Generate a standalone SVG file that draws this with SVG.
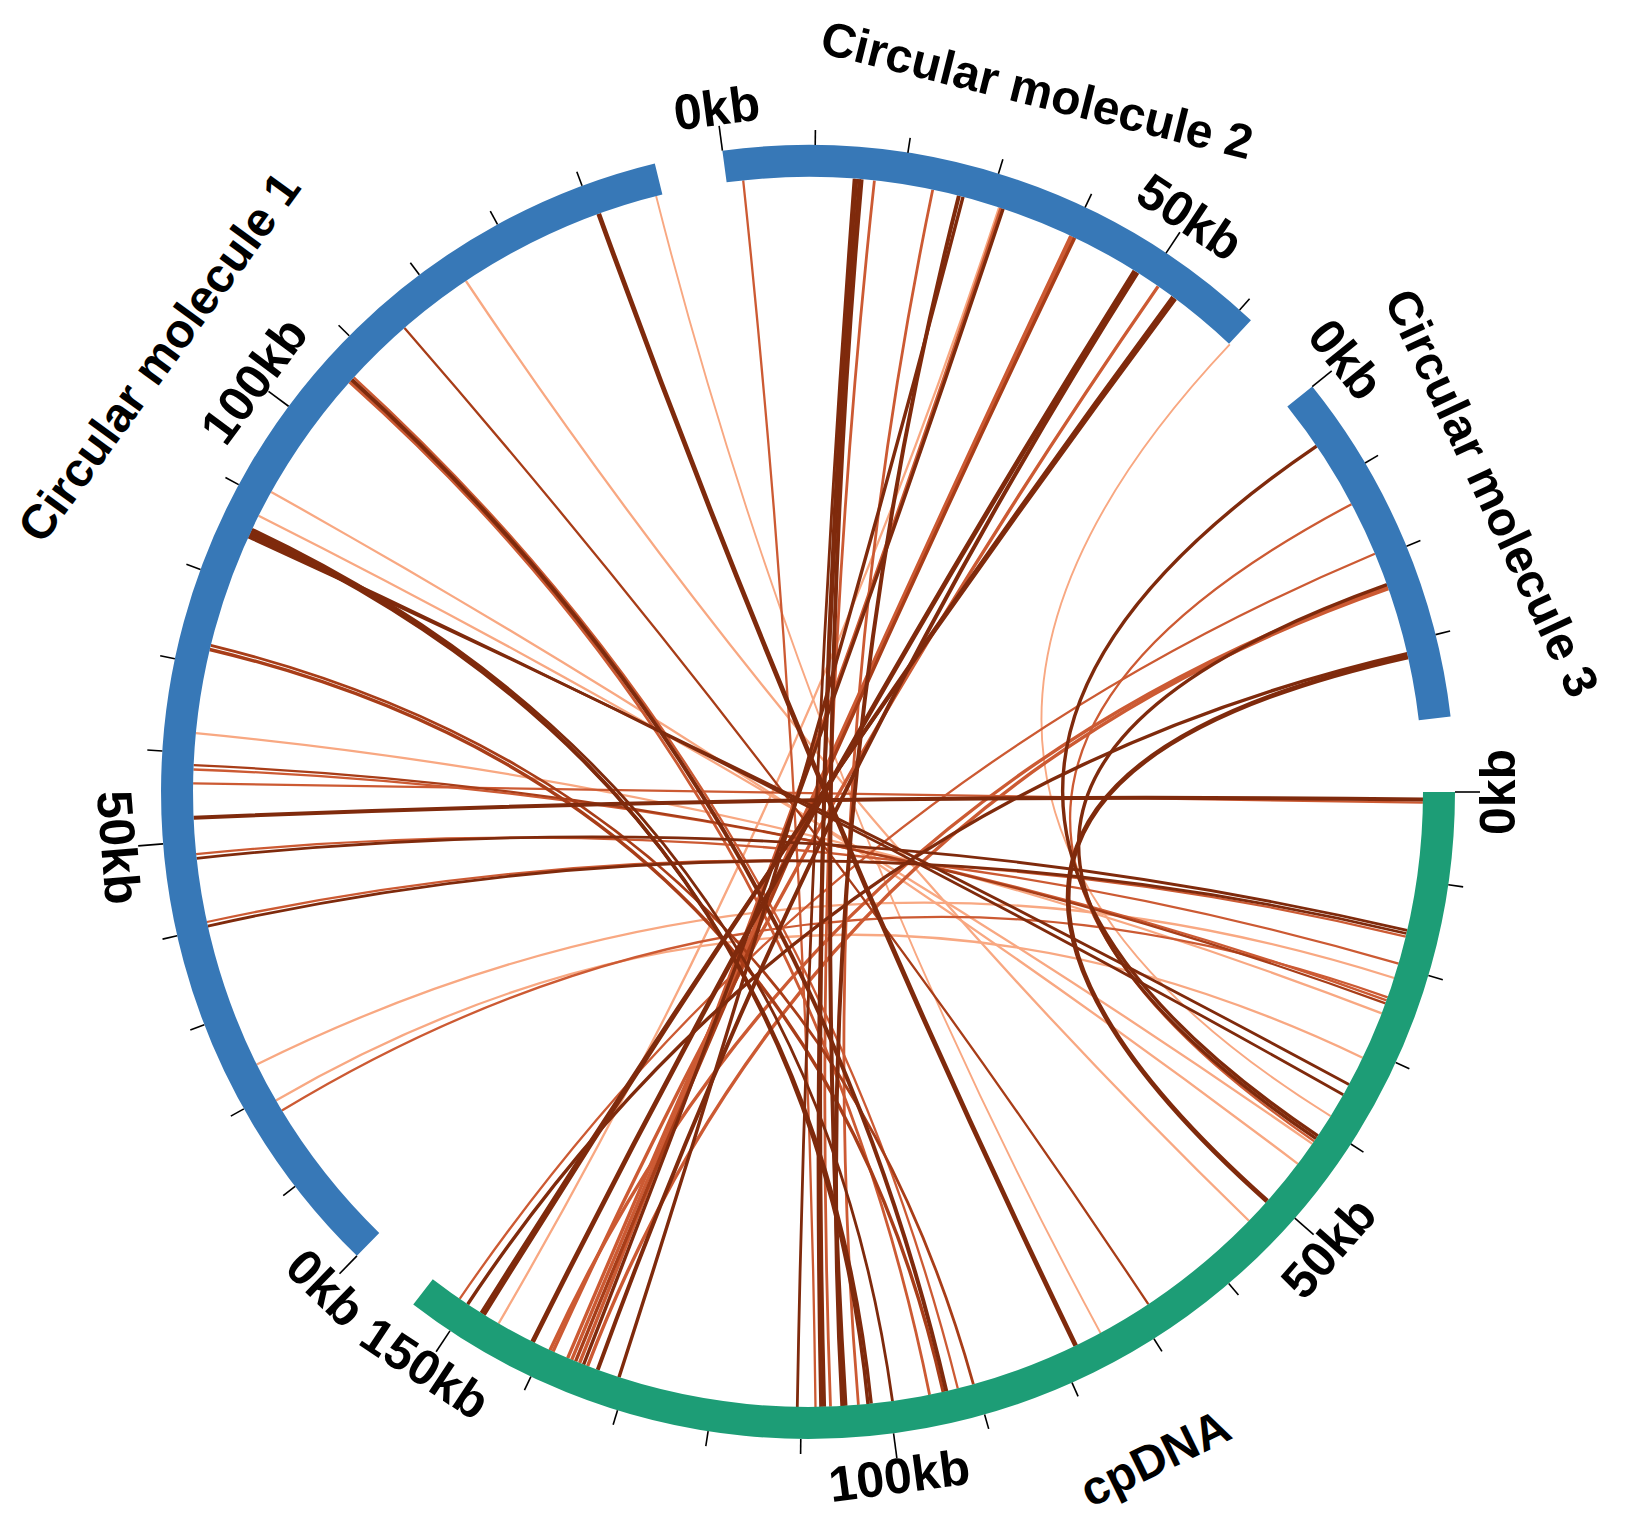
<svg xmlns="http://www.w3.org/2000/svg" width="1626" height="1529" viewBox="0 0 1626 1529">
<style>
.ring{fill:none;stroke-width:32;stroke-linecap:butt}
.blue{stroke:#3778b7}
.green{stroke:#1d9d76}
.tick line{stroke:#000;stroke-width:1.6}
.lab{font-family:"Liberation Sans",Arial,sans-serif;font-weight:bold;fill:#000;text-anchor:middle;dominant-baseline:central}
.tl{font-size:50px}
.il{font-size:48px}
#links path{fill:none;stroke-linecap:butt}
.d{stroke:#7f2a0c}
.md{stroke:#a83d18}
.m{stroke:#cc5a33}
.l{stroke:#f8a882}
.w1{stroke-width:1.9}
.w2{stroke-width:2.3}
.w25{stroke-width:2.8}
.w3{stroke-width:3.4}
.w35{stroke-width:4}
.w4{stroke-width:4.8}
</style>
<rect width="1626" height="1529" fill="#fff"/>

<g id="links">
<!-- light -->
<path class="l w2" d="M256.7 1064.5 Q808 792 1394.2 978.0"/>
<path class="l w2" d="M195.8 733.1 Q808 792 1381.8 1013.4"/>
<path class="l w2" d="M275.9 1100.4 Q808 792 1362.6 1057.7"/>
<path class="l w1" d="M1229.8 344.4 Q808 792 1330.7 1116.1"/>
<path class="l w2" d="M258.6 515.7 Q808 792 1312.4 1143.9"/>
<path class="l w2" d="M271.2 492.0 Q808 792 1297.9 1163.8"/>
<path class="l w2" d="M465.9 281.0 Q808 792 1248.9 1220.8"/>
<path class="l w1" d="M656.1 196.1 Q808 792 1100.5 1333.0"/>
<path class="l w2" d="M999.1 207.4 Q808 792 498.6 1323.5"/>
<!-- medium -->
<path class="m w2" d="M193.1 783.4 Q808 792 1422.9 802.7"/>
<path class="m w2" d="M206.9 922.0 Q808 792 1405.8 936.6"/>
<path class="m w2" d="M196.1 854.2 Q808 792 1398.6 963.6"/>
<path class="m w2" d="M281.9 1110.6 Q808 792 1387.7 997.3"/>
<path class="m w2" d="M193.4 769.5 Q808 792 1386.6 1000.3"/>
<path class="m w2" d="M1351.5 504.2 Q808 792 1314.2 1141.2"/>
<path class="m w2" d="M743.2 180.4 Q808 792 815.5 1407.0"/>
<path class="m w25" d="M874.4 180.6 Q808 792 830.5 1406.6"/>
<path class="m w25" d="M932.7 189.8 Q808 792 858.4 1404.9"/>
<path class="m w25" d="M349.5 382.1 Q808 792 929.6 1394.9"/>
<path class="m w2" d="M353.8 377.3 Q808 792 957.8 1388.5"/>
<path class="m w2" d="M1374.9 553.7 Q808 792 459.7 1298.8"/>
<path class="m w3" d="M1158.1 286.4 Q808 792 553.0 1351.6"/>
<path class="m w3" d="M1387.7 586.7 Q808 792 550.0 1350.3"/>
<path class="m w3" d="M1070.8 236.0 Q808 792 567.7 1358.1"/>
<path class="m w3" d="M1072.8 236.9 Q808 792 571.7 1359.8"/>
<path class="m w3" d="M1001.1 208.1 Q808 792 579.6 1363.0"/>
<path class="m w3" d="M1388.4 588.7 Q808 792 587.6 1366.2"/>
<!-- medium dark -->
<path class="md w2" d="M193.6 765.2 Q808 792 1385.5 1003.4"/>
<path class="md w2" d="M404.5 327.9 Q808 792 1148.3 1304.2"/>
<path class="md w3" d="M1074.7 237.8 Q808 792 575.6 1361.4"/>
<path class="md w3" d="M209.7 649.5 Q808 792 943.2 1392.0"/>
<path class="md w25" d="M210.8 645.3 Q808 792 973.4 1384.3"/>
<!-- dark -->
<path class="d w35" d="M193.6 817.8 Q808 792 1423.0 799.5"/>
<path class="d w25" d="M196.6 858.4 Q808 792 1407.2 930.3"/>
<path class="d w25" d="M207.8 926.1 Q808 792 1406.5 933.5"/>
<path class="d w25" d="M248.3 537.0 Q808 792 1349.0 1084.5"/>
<path class="d w25" d="M249.3 535.0 Q808 792 1343.3 1094.8"/>
<path class="d w3" d="M1316.6 446.2 Q808 792 1317.9 1135.9"/>
<path class="d w3" d="M1387.0 584.7 Q808 792 1316.1 1138.6"/>
<path class="d w4" d="M1408.0 656.8 Q808 792 1267.2 1201.1"/>
<path class="d w4" d="M598.7 213.7 Q808 792 1075.7 1345.7"/>
<path class="d w25" d="M854.1 178.7 Q808 792 797.3 1406.9"/>
<path class="d w35" d="M856.3 178.9 Q808 792 824.1 1406.8"/>
<path class="d w3" d="M859.5 179.2 Q808 792 820.9 1406.9"/>
<path class="d w35" d="M861.6 179.3 Q808 792 845.5 1405.8"/>
<path class="d w35" d="M958.9 195.8 Q808 792 842.3 1406.0"/>
<path class="d w35" d="M351.7 379.7 Q808 792 946.3 1391.2"/>
<path class="d w3" d="M250.2 533.1 Q808 792 871.2 1403.7"/>
<path class="d w3" d="M251.1 531.1 Q808 792 868.0 1404.1"/>
<path class="d w25" d="M252.0 529.2 Q808 792 892.5 1401.2"/>
<path class="d w3" d="M1407.2 653.7 Q808 792 467.7 1304.2"/>
<path class="d w35" d="M1173.0 297.0 Q808 792 483.9 1314.7"/>
<path class="d w3" d="M1175.5 298.9 Q808 792 481.2 1313.0"/>
<path class="d w4" d="M1134.8 271.0 Q808 792 532.6 1341.9"/>
<path class="d w3" d="M1003.1 208.8 Q808 792 583.6 1364.6"/>
<path class="d w35" d="M1137.5 272.7 Q808 792 597.7 1369.9"/>
<path class="d w3" d="M963.0 196.9 Q808 792 619.0 1377.2"/>
</g>

<g id="mol1">
<path class="ring blue" d="M368.1 1244.4 A631 631 0 0 1 658.6 179.0"/>
<g class="tick" transform="translate(808,792)">
<line y1="-647" y2="-672" transform="rotate(224.2)"/>
<line y1="-647" y2="-662" transform="rotate(232.44)"/>
<line y1="-647" y2="-662" transform="rotate(240.68)"/>
<line y1="-647" y2="-662" transform="rotate(248.92)"/>
<line y1="-647" y2="-662" transform="rotate(257.16)"/>
<line y1="-647" y2="-672" transform="rotate(265.4)"/>
<line y1="-647" y2="-662" transform="rotate(273.64)"/>
<line y1="-647" y2="-662" transform="rotate(281.88)"/>
<line y1="-647" y2="-662" transform="rotate(290.12)"/>
<line y1="-647" y2="-662" transform="rotate(298.36)"/>
<line y1="-647" y2="-672" transform="rotate(306.6)"/>
<line y1="-647" y2="-662" transform="rotate(314.84)"/>
<line y1="-647" y2="-662" transform="rotate(323.08)"/>
<line y1="-647" y2="-662" transform="rotate(331.32)"/>
<line y1="-647" y2="-662" transform="rotate(339.56)"/>
</g>
<text class="lab tl" transform="translate(808,792) rotate(224.2) translate(0,-692) rotate(180)">0kb</text>
<text class="lab tl" transform="translate(808,792) rotate(265.4) translate(0,-692) rotate(180)">50kb</text>
<text class="lab tl" transform="translate(808,792) rotate(306.6) translate(0,-690)">100kb</text>
<text class="lab il" transform="translate(159,357) rotate(-54)">Circular molecule 1</text>
</g>

<g id="mol2">
<path class="ring blue" d="M724.5 166.5 A631 631 0 0 1 1240.0 332.0"/>
<g class="tick" transform="translate(808,792)">
<line y1="-647" y2="-672" transform="rotate(352.4)"/>
<line y1="-647" y2="-662" transform="rotate(0.64)"/>
<line y1="-647" y2="-662" transform="rotate(8.88)"/>
<line y1="-647" y2="-662" transform="rotate(17.12)"/>
<line y1="-647" y2="-662" transform="rotate(25.36)"/>
<line y1="-647" y2="-672" transform="rotate(33.6)"/>
<line y1="-647" y2="-662" transform="rotate(41.84)"/>
</g>
<text class="lab tl" transform="translate(808,792) rotate(352.4) translate(0,-690)">0kb</text>
<text class="lab tl" transform="translate(808,792) rotate(33.6) translate(0,-690)">50kb</text>
<text class="lab il" transform="translate(1037,90) rotate(14)">Circular molecule 2</text>
</g>

<g id="mol3">
<path class="ring blue" d="M1299.8 396.6 A631 631 0 0 1 1434.7 718.4"/>
<g class="tick" transform="translate(808,792)">
<line y1="-647" y2="-672" transform="rotate(51.2)"/>
<line y1="-647" y2="-662" transform="rotate(59.44)"/>
<line y1="-647" y2="-662" transform="rotate(67.68)"/>
<line y1="-647" y2="-662" transform="rotate(75.92)"/>
</g>
<text class="lab tl" transform="translate(808,792) rotate(51.2) translate(0,-690)">0kb</text>
<text class="lab il" transform="translate(1492,493) rotate(65)">Circular molecule 3</text>
</g>

<g id="cpDNA">
<path class="ring green" d="M1439 792 A631 631 0 0 1 423.0 1291.9"/>
<g class="tick" transform="translate(808,792)">
<line y1="-647" y2="-672" transform="rotate(90)"/>
<line y1="-647" y2="-662" transform="rotate(98.24)"/>
<line y1="-647" y2="-662" transform="rotate(106.48)"/>
<line y1="-647" y2="-662" transform="rotate(114.72)"/>
<line y1="-647" y2="-662" transform="rotate(122.96)"/>
<line y1="-647" y2="-672" transform="rotate(131.2)"/>
<line y1="-647" y2="-662" transform="rotate(139.44)"/>
<line y1="-647" y2="-662" transform="rotate(147.68)"/>
<line y1="-647" y2="-662" transform="rotate(155.92)"/>
<line y1="-647" y2="-662" transform="rotate(164.16)"/>
<line y1="-647" y2="-672" transform="rotate(172.4)"/>
<line y1="-647" y2="-662" transform="rotate(180.64)"/>
<line y1="-647" y2="-662" transform="rotate(188.88)"/>
<line y1="-647" y2="-662" transform="rotate(197.12)"/>
<line y1="-647" y2="-662" transform="rotate(205.36)"/>
<line y1="-647" y2="-672" transform="rotate(213.6)"/>
</g>
<text class="lab tl" transform="translate(808,792) rotate(90) translate(0,-690) rotate(180)">0kb</text>
<text class="lab tl" transform="translate(808,792) rotate(131.2) translate(0,-692) rotate(180)">50kb</text>
<text class="lab tl" transform="translate(808,792) rotate(172.4) translate(0,-690) rotate(180)">100kb</text>
<text class="lab tl" transform="translate(808,792) rotate(213.6) translate(0,-692) rotate(180)">150kb</text>
<text class="lab il" transform="translate(1155,1458) rotate(-26)">cpDNA</text>
</g>
</svg>
